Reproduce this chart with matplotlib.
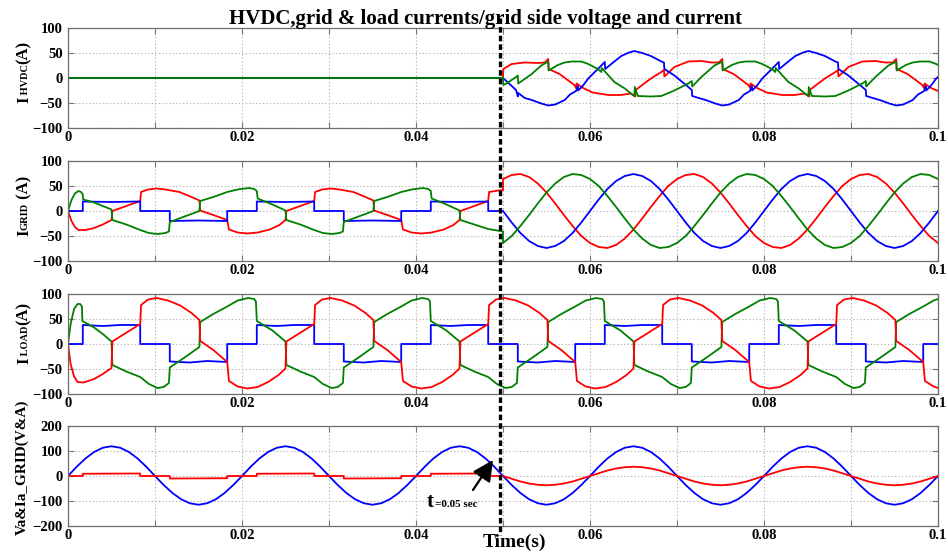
import numpy as np
import matplotlib
matplotlib.use('Agg')
import matplotlib.pyplot as plt
import matplotlib.transforms as mtransforms
from matplotlib.lines import Line2D
from matplotlib.ticker import FixedLocator, FixedFormatter

# ---------------------------------------------------------------- data
TITLE = "HVDC,grid & load currents/grid side voltage and current"
XTICKS = [0, 0.01, 0.02, 0.03, 0.04, 0.05, 0.06, 0.07, 0.08, 0.09, 0.1]
XTICKLABELS = ['0', '', '0.02', '', '0.04', '', '0.06', '', '0.08', '', '0.1']
YTICKS_I = [-100, -50, 0, 50, 100]
YTICKS_V = [-200, -100, 0, 100, 200]

# uniform 1 ms sample grids
T_FULL = np.arange(0, 101) / 1000.0
T_POST = np.arange(50, 101) / 1000.0

# ---- panel 1 : HVDC currents (zero before 0.05 s)
HVDC_A_T = [0, 0.0500, 0.05003, 0.0510, 0.0525, 0.0540, 0.0548, 0.0552, 0.05525, 0.0565, 0.0582, 0.0584, 0.05845, 0.0592,
            0.0603, 0.0621, 0.0635, 0.0647, 0.0652, 0.06525, 0.0660, 0.0670, 0.0682, 0.0685, 0.06855, 0.0697, 0.0713,
            0.0728, 0.0740, 0.0748, 0.0752, 0.07525, 0.0765, 0.0782, 0.0784, 0.07845, 0.0792, 0.0803, 0.0821, 0.0835,
            0.0847, 0.0852, 0.08525, 0.0860, 0.0870, 0.0882, 0.0885, 0.08855, 0.0897, 0.0913, 0.0928, 0.0940, 0.0948,
            0.0952, 0.09525, 0.0965, 0.0982, 0.0984, 0.09845, 0.0992, 0.1000]
HVDC_A_V = [0, 0, 18, 28, 31, 30, 31, 38, 18, 8, -14, -20, -11, -20,
            -29, -34, -34, -31, -37, -24, -14, -1, 12, 16, 3, 22, 33,
            34, 31, 31, 38, 18, 8, -14, -20, -11, -20, -29, -34, -34,
            -31, -37, -24, -14, -1, 12, 16, 3, 22, 33, 34, 31, 31,
            38, 18, 8, -14, -20, -11, -20, -26]

HVDC_B_T = [0, 0.0500, 0.0505, 0.0515, 0.0517, 0.05175, 0.0525, 0.0533, 0.0544, 0.0552, 0.0560, 0.0571, 0.0577,
            0.0584, 0.0586, 0.05865, 0.0592, 0.0598, 0.0609, 0.0617, 0.06175, 0.0628, 0.0636, 0.0645, 0.0651, 0.0660,
            0.0670, 0.0682, 0.0685, 0.06855, 0.0697, 0.0713, 0.0717, 0.07175, 0.0725, 0.0733, 0.0744, 0.0752, 0.0760,
            0.0771, 0.0777, 0.0784, 0.0786, 0.07865, 0.0792, 0.0798, 0.0809, 0.0817, 0.08175, 0.0828, 0.0836, 0.0845,
            0.0851, 0.0860, 0.0870, 0.0882, 0.0885, 0.08855, 0.0897, 0.0913, 0.0917, 0.09175, 0.0925, 0.0933, 0.0944,
            0.0952, 0.0960, 0.0971, 0.0977, 0.0984, 0.0986, 0.09865, 0.0992, 0.0998, 0.1000]
HVDC_B_V = [0, 0, -8, -24, -37, -30, -40, -44, -51, -55, -53, -44, -33,
            -26, -16, -25, -15, -1, 18, 32, 18, 33, 44, 51, 54, 50,
            44, 33, 31, 18, 5, -18, -24, -36, -40, -44, -51, -55, -53,
            -44, -33, -26, -16, -25, -15, -1, 18, 32, 18, 33, 44, 51,
            54, 50, 44, 33, 31, 18, 5, -18, -24, -36, -40, -44, -51,
            -55, -53, -44, -33, -26, -16, -25, -15, -1, 2]

HVDC_C_T = [0, 0.0500, 0.05003, 0.0504, 0.0515, 0.0517, 0.05175, 0.0533, 0.0544, 0.0550, 0.0552, 0.05525, 0.0563,
            0.0571, 0.0579, 0.0590, 0.0598, 0.0609, 0.0613, 0.06135, 0.0628, 0.0640, 0.0647, 0.0651, 0.06515, 0.0655,
            0.0670, 0.0682, 0.0697, 0.0713, 0.0717, 0.07175, 0.0728, 0.0743, 0.0750, 0.0752, 0.07525, 0.0763, 0.0771,
            0.0779, 0.0790, 0.0798, 0.0809, 0.0813, 0.08135, 0.0828, 0.0840, 0.0847, 0.0851, 0.08515, 0.0855, 0.0870,
            0.0882, 0.0897, 0.0913, 0.0917, 0.09175, 0.0928, 0.0943, 0.0950, 0.0952, 0.09525, 0.0963, 0.0971, 0.0979,
            0.0990, 0.0998, 0.1000]
HVDC_C_V = [0, 0, -14, -11, 2, 5, -11, 8, 25, 31, 32, 15, 26,
            31, 33, 33, 28, 18, 12, 20, -8, -21, -31, -36, -18, -36,
            -37, -36, -25, -11, -6, -17, 2, 25, 31, 32, 15, 26, 31,
            33, 33, 28, 18, 12, 20, -8, -21, -31, -36, -18, -36, -37,
            -36, -25, -11, -6, -17, 2, 25, 31, 32, 15, 26, 31, 33,
            33, 28, 26]

# ---- panel 2 : grid currents (breakpoints before 0.05 s, 1 ms samples after)
GRID_A_PRE_T = [0, 0.0004, 0.0008, 0.0012, 0.0020, 0.0030, 0.0040, 0.0050, 0.0051,
                0.0083, 0.0084, 0.0092, 0.0102, 0.0112, 0.0128, 0.0142, 0.0151, 0.0152,
                0.0167, 0.0183, 0.0185, 0.0195, 0.0206, 0.0218, 0.0232, 0.0243, 0.0250, 0.0251,
                0.0283, 0.0284, 0.0292, 0.0302, 0.0312, 0.0328, 0.0342, 0.0351, 0.0352,
                0.0367, 0.0383, 0.0385, 0.0395, 0.0406, 0.0418, 0.0432, 0.0443, 0.0450, 0.0451,
                0.0483, 0.0484, 0.0495, 0.0500]
GRID_A_PRE_V = [0, -20, -32, -38, -38, -34, -27, -18, 0,
                20, 38, 43, 45, 43, 38, 28, 21, 1,
                -8, -18, -37, -43, -45, -43, -37, -28, -18, 0,
                20, 38, 43, 45, 43, 38, 28, 21, 1,
                -8, -18, -37, -43, -45, -43, -37, -28, -18, 0,
                20, 38, 41, 42]
GRID_A_POST = [64, 72, 74, 68, 55, 37, 15, -8, -30, -50,
               -64, -72, -74, -68, -55, -37, -15, 8, 30, 50,
               64, 72, 74, 68, 55, 37, 15, -8, -30, -50,
               -64, -72, -74, -68, -55, -37, -15, 8, 30, 50,
               64, 72, 74, 68, 55, 37, 15, -8, -30, -50,
               -64]

GRID_B_PRE_T = [0, 0.0017, 0.0017, 0.0050, 0.0083, 0.0083, 0.0117, 0.0117, 0.0150, 0.0183, 0.0183,
                0.0217, 0.0217, 0.0250, 0.0283, 0.0283, 0.0317, 0.0317, 0.0350, 0.0383, 0.0383,
                0.0417, 0.0417, 0.0450, 0.0483, 0.0483]
GRID_B_PRE_V = [0, 0, 19, 18, 19, 0, 0, -20, -19, -20, 0,
                0, 19, 18, 19, 0, 0, -20, -19, -20, 0,
                0, 19, 18, 19, 0]
GRID_B_POST = [0, -23, -44, -60, -70, -74, -70, -60, -44, -23,
               0, 23, 44, 60, 70, 74, 70, 60, 44, 23,
               0, -23, -44, -60, -70, -74, -70, -60, -44, -23,
               0, 23, 44, 60, 70, 74, 70, 60, 44, 23,
               0, -23, -44, -60, -70, -74, -70, -60, -44, -23,
               0]

GRID_C_PRE_T = [0, 0.0004, 0.0008, 0.0012, 0.0015, 0.0017, 0.00175, 0.0030, 0.0040, 0.0050, 0.0051,
                0.0067, 0.0083, 0.0093, 0.0103, 0.0112, 0.0116, 0.0117, 0.0134, 0.0151, 0.0152,
                0.0167, 0.0183, 0.0195, 0.0208, 0.0214, 0.0217, 0.0218, 0.0235, 0.0250, 0.0251,
                0.0267, 0.0283, 0.0293, 0.0303, 0.0312, 0.0316, 0.0317, 0.0334, 0.0351, 0.0352,
                0.0367, 0.0383, 0.0395, 0.0408, 0.0414, 0.0417, 0.0418, 0.0435, 0.0450, 0.0451,
                0.0467, 0.0483, 0.0500]
GRID_C_PRE_V = [0, 22, 35, 40, 38, 33, 23, 17, 10, 3, -18,
                -27, -38, -44, -46, -44, -41, -22, -11, 0, 20,
                28, 38, 43, 46, 44, 40, 25, 13, 1, -18,
                -27, -38, -44, -46, -44, -41, -22, -11, 0, 20,
                28, 38, 43, 46, 44, 40, 25, 13, 1, -18,
                -27, -36, -41]
GRID_C_POST = [-64, -50, -30, -8, 15, 37, 55, 68, 74, 72,
               64, 50, 30, 8, -15, -37, -55, -68, -74, -72,
               -64, -50, -30, -8, 15, 37, 55, 68, 74, 72,
               64, 50, 30, 8, -15, -37, -55, -68, -74, -72,
               -64, -50, -30, -8, 15, 37, 55, 68, 74, 72,
               64]

# ---- panel 3 : load currents
LOAD_A_T = [0, 0.0003, 0.0007, 0.0011, 0.0018, 0.0030, 0.0040, 0.0050, 0.0051,
            0.0083, 0.0084, 0.0092, 0.0102, 0.0115, 0.0129, 0.0142, 0.0151, 0.0152,
            0.0167, 0.0183, 0.0185, 0.0195, 0.0206, 0.0218, 0.0230, 0.0242, 0.0250, 0.0251,
            0.0283, 0.0284, 0.0292, 0.0302, 0.0315, 0.0329, 0.0342, 0.0351, 0.0352,
            0.0367, 0.0383, 0.0385, 0.0395, 0.0406, 0.0418, 0.0430, 0.0442, 0.0450, 0.0451,
            0.0483, 0.0484, 0.0492, 0.0502, 0.0515, 0.0529, 0.0542, 0.0551, 0.0552,
            0.0567, 0.0583, 0.0585, 0.0595, 0.0606, 0.0618, 0.0630, 0.0642, 0.0650, 0.0651,
            0.0683, 0.0684, 0.0692, 0.0702, 0.0715, 0.0729, 0.0742, 0.0751, 0.0752,
            0.0767, 0.0783, 0.0785, 0.0795, 0.0806, 0.0818, 0.0830, 0.0842, 0.0850, 0.0851,
            0.0883, 0.0884, 0.0892, 0.0902, 0.0915, 0.0929, 0.0942, 0.0951, 0.0952,
            0.0967, 0.0983, 0.0985, 0.0995, 0.1000]
LOAD_A_V = [0, -40, -65, -76, -77, -70, -60, -48, 5,
            40, 78, 89, 92, 87, 77, 62, 48, 6,
            -12, -36, -74, -85, -89, -86, -76, -62, -49, 5,
            40, 78, 89, 92, 87, 77, 62, 48, 6,
            -12, -36, -74, -85, -89, -86, -76, -62, -49, 5,
            40, 78, 89, 92, 87, 77, 62, 48, 6,
            -12, -36, -74, -85, -89, -86, -76, -62, -49, 5,
            40, 78, 89, 92, 87, 77, 62, 48, 6,
            -12, -36, -74, -85, -89, -86, -76, -62, -49, 5,
            40, 78, 89, 92, 87, 77, 62, 48, 6,
            -12, -36, -74, -85, -88]

LOAD_B_T = [0,
            0.0017, 0.0017, 0.0040, 0.0060, 0.0083, 0.0083, 0.0117, 0.0117, 0.0140, 0.0160, 0.0183, 0.0183,
            0.0217, 0.0217, 0.0240, 0.0260, 0.0283, 0.0283, 0.0317, 0.0317, 0.0340, 0.0360, 0.0383, 0.0383,
            0.0417, 0.0417, 0.0440, 0.0460, 0.0483, 0.0483, 0.0517, 0.0517, 0.0540, 0.0560, 0.0583, 0.0583,
            0.0617, 0.0617, 0.0640, 0.0660, 0.0683, 0.0683, 0.0717, 0.0717, 0.0740, 0.0760, 0.0783, 0.0783,
            0.0817, 0.0817, 0.0840, 0.0860, 0.0883, 0.0883, 0.0917, 0.0917, 0.0940, 0.0960, 0.0983, 0.0983,
            0.1000]
LOAD_B_V = [0,
            0, 38, 36, 38, 38, 0, 0, -35, -37, -34, -36, 0,
            0, 38, 36, 38, 38, 0, 0, -35, -37, -34, -36, 0,
            0, 38, 36, 38, 38, 0, 0, -35, -37, -34, -36, 0,
            0, 38, 36, 38, 38, 0, 0, -35, -37, -34, -36, 0,
            0, 38, 36, 38, 38, 0, 0, -35, -37, -34, -36, 0,
            0]

LOAD_C_T = [0, 0.0003, 0.0007, 0.0011, 0.0014, 0.0016, 0.00165, 0.0030, 0.0040, 0.0050, 0.0051,
            0.0067, 0.0083, 0.0093, 0.0103, 0.0110, 0.0116, 0.0117, 0.0134, 0.0151, 0.0152,
            0.0167, 0.0183, 0.0195, 0.0207, 0.0214, 0.0216, 0.0217, 0.0235, 0.0250, 0.0251,
            0.0267, 0.0283, 0.0293, 0.0303, 0.0310, 0.0316, 0.0317, 0.0334, 0.0351, 0.0352,
            0.0367, 0.0383, 0.0395, 0.0407, 0.0414, 0.0416, 0.0417, 0.0435, 0.0450, 0.0451,
            0.0467, 0.0483, 0.0493, 0.0503, 0.0510, 0.0516, 0.0517, 0.0534, 0.0551, 0.0552,
            0.0567, 0.0583, 0.0595, 0.0607, 0.0614, 0.0616, 0.0617, 0.0635, 0.0650, 0.0651,
            0.0667, 0.0683, 0.0693, 0.0703, 0.0710, 0.0716, 0.0717, 0.0734, 0.0751, 0.0752,
            0.0767, 0.0783, 0.0795, 0.0807, 0.0814, 0.0816, 0.0817, 0.0835, 0.0850, 0.0851,
            0.0867, 0.0883, 0.0893, 0.0903, 0.0910, 0.0916, 0.0917, 0.0934, 0.0951, 0.0952,
            0.0967, 0.0983, 0.0995, 0.1000]
LOAD_C_V = [0, 40, 70, 80, 80, 75, 46, 33, 20, 5, -42,
            -55, -66, -80, -88, -86, -78, -47, -27, -6, 44,
            60, 75, 87, 92, 90, 85, 46, 27, 5, -42,
            -55, -66, -80, -88, -86, -78, -47, -27, -6, 44,
            60, 75, 87, 92, 90, 85, 46, 27, 5, -42,
            -55, -66, -80, -88, -86, -78, -47, -27, -6, 44,
            60, 75, 87, 92, 90, 85, 46, 27, 5, -42,
            -55, -66, -80, -88, -86, -78, -47, -27, -6, 44,
            60, 75, 87, 92, 90, 85, 46, 27, 5, -42,
            -55, -66, -80, -88, -86, -78, -47, -27, -6, 44,
            60, 75, 87, 90]

# ---- panel 4 : grid voltage Va (1 ms samples) and grid current Ia
VA_GRID = [0, 37, 70, 96, 113, 119, 113, 96, 70, 37, 0, -36, -68, -93, -109, -115, -109, -93, -68, -36,
           0, 37, 70, 96, 113, 119, 113, 96, 70, 37, 0, -36, -68, -93, -109, -115, -109, -93, -68, -36,
           0, 37, 70, 96, 113, 119, 113, 96, 70, 37, 0, -36, -68, -93, -109, -115, -109, -93, -68, -36,
           0, 37, 70, 96, 113, 119, 113, 96, 70, 37, 0, -36, -68, -93, -109, -115, -109, -93, -68, -36,
           0, 37, 70, 96, 113, 119, 113, 96, 70, 37, 0, -36, -68, -93, -109, -115, -109, -93, -68, -36,
           0]
IA_PRE_T = [0, 0.0017, 0.0017, 0.0083, 0.0083, 0.0117, 0.0117, 0.0183, 0.0183, 0.0217, 0.0217,
            0.0283, 0.0283, 0.0317, 0.0317, 0.0383, 0.0383, 0.0417, 0.0417, 0.0483, 0.0483]
IA_PRE_V = [0, 0, 9, 10, 0, 0, -10, -9, 0, 0, 9,
            10, 0, 0, -10, -9, 0, 0, 9, 10, 0]
IA_POST = [0, -11, -22, -30, -35, -37, -35, -30, -22, -11,
           0, 11, 22, 30, 35, 37, 35, 30, 22, 11,
           0, -11, -22, -30, -35, -37, -35, -30, -22, -11,
           0, 11, 22, 30, 35, 37, 35, 30, 22, 11,
           0, -11, -22, -30, -35, -37, -35, -30, -22, -11,
           0]

SWITCH_T = 0.0497   # position of the dashed marker line

# ---------------------------------------------------------------- style
plt.rcParams['font.family'] = ['Liberation Serif', 'DejaVu Serif']
plt.rcParams['font.weight'] = 'bold'
plt.rcParams['lines.scale_dashes'] = False

RED, BLUE, GREEN = '#ff0000', '#0000ff', '#008000'
LW = 1.3
W, H = 948, 553

fig = plt.figure(figsize=(W / 100, H / 100), dpi=100)

def rect(top_px, bot_px):
    return [68 / W, 1 - bot_px / H, (938 - 68) / W, (bot_px - top_px) / H]

panels = [(28, 128), (161, 261), (294, 394), (426, 526)]
axes = [fig.add_axes(rect(*p)) for p in panels]

for i, ax in enumerate(axes):
    ax.set_xlim(0, 0.1)
    ax.xaxis.set_major_locator(FixedLocator(XTICKS))
    ax.xaxis.set_major_formatter(FixedFormatter(XTICKLABELS))
    yt = YTICKS_V if i == 3 else YTICKS_I
    ax.set_ylim(yt[0], yt[-1])
    ax.yaxis.set_major_locator(FixedLocator(yt))
    ax.tick_params(direction='in', length=4, width=0.8, color='#777777',
                   top=True, right=True, labelsize=10.5)
    ax.tick_params(axis='x', pad=2.5)
    ax.tick_params(axis='y', pad=4)
    for lab in ax.get_xticklabels() + ax.get_yticklabels():
        lab.set_fontweight('bold')
    for s in ax.spines.values():
        s.set_color('#6e6e6e')
        s.set_linewidth(0.9)
    ax.grid(True, linestyle=(0, (1, 1.5)), color='#b8b8b8', linewidth=0.8)
    ax.set_axisbelow(True)

# panel 1
a1 = axes[0]
a1.plot(HVDC_A_T, HVDC_A_V, color=RED, lw=LW)
a1.plot(HVDC_B_T, HVDC_B_V, color=BLUE, lw=LW)
a1.plot(HVDC_C_T, HVDC_C_V, color=GREEN, lw=LW)

# panel 2
a2 = axes[1]
a2.plot(np.concatenate([GRID_A_PRE_T, T_POST]), np.concatenate([GRID_A_PRE_V, GRID_A_POST]), color=RED, lw=LW)
a2.plot(np.concatenate([GRID_B_PRE_T, T_POST]), np.concatenate([GRID_B_PRE_V, GRID_B_POST]), color=BLUE, lw=LW)
a2.plot(np.concatenate([GRID_C_PRE_T, T_POST]), np.concatenate([GRID_C_PRE_V, GRID_C_POST]), color=GREEN, lw=LW)

# panel 3
a3 = axes[2]
a3.plot(LOAD_B_T, LOAD_B_V, color=BLUE, lw=LW)
a3.plot(LOAD_C_T, LOAD_C_V, color=GREEN, lw=LW)
a3.plot(LOAD_A_T, LOAD_A_V, color=RED, lw=LW)

# panel 4
a4 = axes[3]
a4.plot(T_FULL, VA_GRID, color=BLUE, lw=LW)
a4.plot(np.concatenate([IA_PRE_T, T_POST]), np.concatenate([IA_PRE_V, IA_POST]), color=RED, lw=LW)

# arrow and annotation
a4.annotate('', xy=(0.04885, 64), xytext=(0.04655, -56),
            arrowprops=dict(arrowstyle='-|>,head_length=0.9,head_width=0.45', color='black',
                            lw=1.6, shrinkA=0, shrinkB=0, mutation_scale=14))
a4.text(0.04125, -124, 't', fontsize=15, fontweight='bold', ha='left', va='baseline')
a4.text(0.04215, -124, '=0.05 sec', fontsize=8, fontweight='bold', ha='left', va='baseline')

# dashed marker line across all panels
trans = mtransforms.blended_transform_factory(a4.transData, fig.transFigure)
fig.add_artist(Line2D([SWITCH_T, SWITCH_T], [1 - 18 / H, 1 - 535 / H], transform=trans,
                      color='black', lw=2.4, dashes=(4.0, 2.2)))

# title and x label
fig.text(486 / W, 1 - 24 / H, TITLE, ha='center', va='baseline', fontsize=15, fontweight='bold')
fig.text(483 / W, 1 - 547 / H, 'Time(s)', ha='left', va='baseline', fontsize=14, fontweight='bold')

# stacked y labels (big/small pieces, rotated)
renderer = fig.canvas.get_renderer()

def stacked_ylabel(x_px, center_px, pieces):
    texts, widths = [], []
    for s, size in pieces:
        t = fig.text(0, 0, s, fontsize=size, fontweight='bold', rotation=0,
                     rotation_mode='anchor', ha='left', va='baseline')
        widths.append(t.get_window_extent(renderer).width)
        t.set_rotation(90)
        texts.append(t)
    y = (H - center_px) - sum(widths) / 2
    for t, w in zip(texts, widths):
        t.set_position((x_px / W, y / H))
        y += w

stacked_ylabel(28, 72, [('I', 12), (' HVDC', 7.5), ('(A)', 12)])
stacked_ylabel(28, 206, [('I', 12), ('GRID', 7.5), (' (A)', 12)])
stacked_ylabel(28, 333, [('I', 12), (' LOAD', 7.5), ('(A)', 12)])
stacked_ylabel(26, 467, [('Va&Ia_GRID(V&A)', 11)])

fig.savefig('out.png', dpi=100)
